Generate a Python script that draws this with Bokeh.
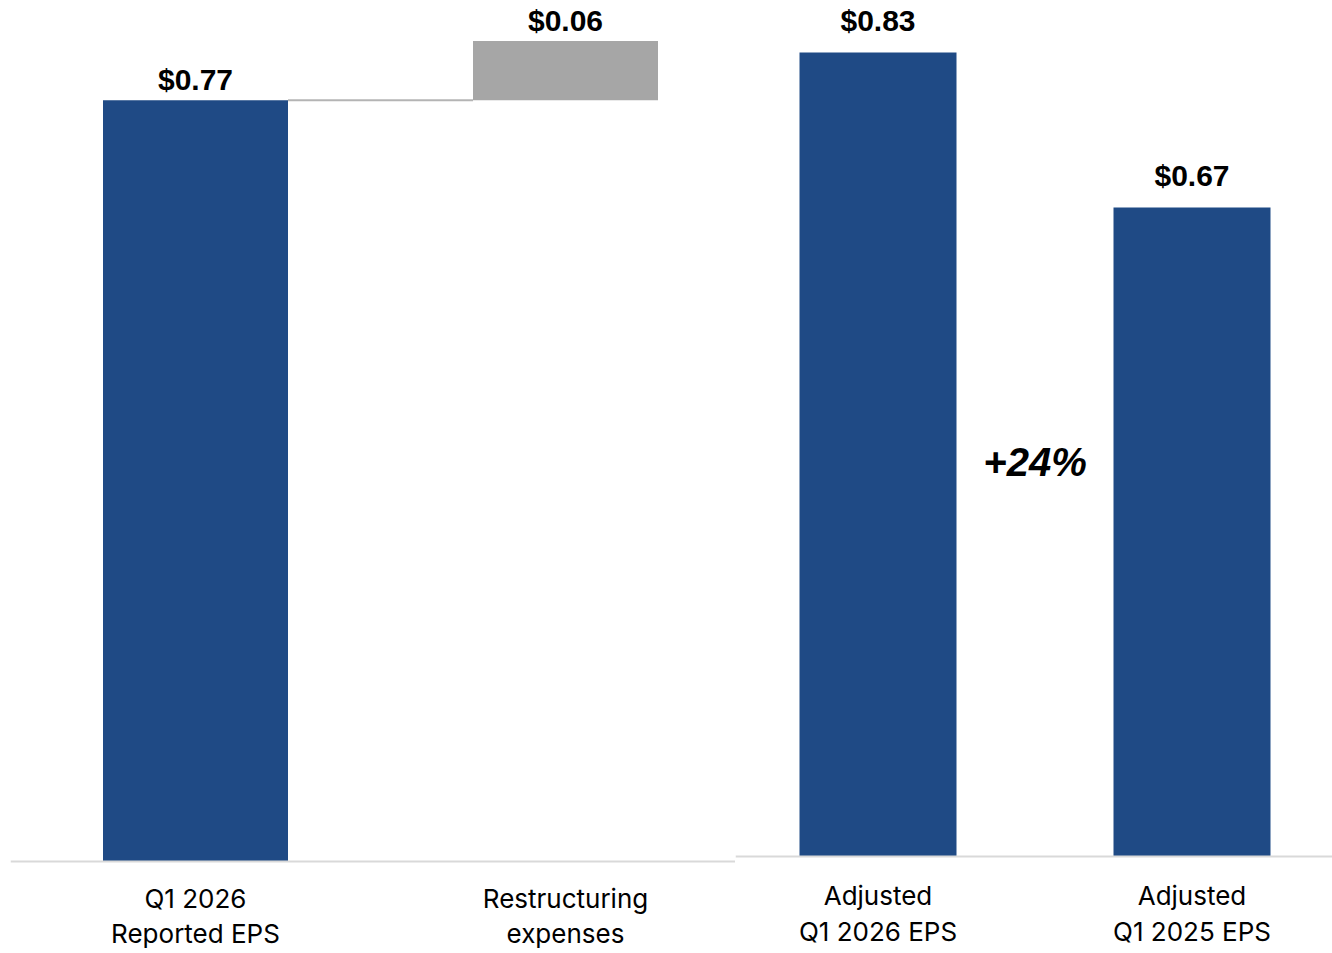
from bokeh.plotting import figure
from bokeh.models import Range1d, ColumnDataSource, LabelSet, Label, Span
from bokeh.core.properties import value
from bokeh.layouts import row
from bokeh.embed import file_html
from bokeh.resources import INLINE

# ---- data ----
bridge_line1 = ["Q1 2026", "Restructuring"]
bridge_line2 = ["Reported EPS", "expenses"]
reported_eps = 0.77
restructuring = 0.06

compare_line1 = ["Adjusted", "Adjusted"]
compare_line2 = ["Q1 2026 EPS", "Q1 2025 EPS"]
compare_values = [0.83, 0.67]

BLUE = "#1F4A85"
GREY = "#A6A6A6"
AXIS = "#D9D9D9"
LABEL_FONT = value("Liberation Sans")
CAT_FONT = value("Inter")


def val_labels(src, off):
    return LabelSet(x="x", y="top", text="lbl", source=src, text_align="center",
                    text_baseline="bottom", y_offset=off, text_font=LABEL_FONT,
                    text_font_style="bold", text_font_size="30px", text_color="black")


def cat_labels(src, col, off):
    return LabelSet(x="x", y="zero", text=col, source=src, text_align="center",
                    text_baseline="middle", y_offset=off, text_font=CAT_FONT,
                    text_font_size="26px", text_color="black")


# ---- left: bridge (waterfall) ----
left = figure(width=735, height=953, output_backend="svg", toolbar_location=None,
              x_axis_type=None, y_axis_type=None,
              x_range=Range1d(0, 725 / 370), y_range=Range1d(-92 / 988.5, 861 / 988.5),
              min_border_left=10, min_border_right=0, min_border_top=0, min_border_bottom=0)
left.outline_line_color = None
left.grid.visible = False

bw = 0.5
xs = [0.5, 1.5]
lsrc = ColumnDataSource(dict(x=xs, bottom=[0, reported_eps],
                             top=[reported_eps, reported_eps + restructuring],
                             color=[BLUE, GREY],
                             lbl=[f"${reported_eps:.2f}", f"${restructuring:.2f}"],
                             l1=bridge_line1, l2=bridge_line2, zero=[0, 0]))
left.add_layout(Span(location=0, dimension="width", line_color=AXIS, line_width=2))
left.vbar(x="x", bottom="bottom", top="top", width=bw, fill_color="color", line_color=None, source=lsrc)
left.segment(x0=[xs[0] + bw / 2], y0=[reported_eps], x1=[xs[1] - bw / 2], y1=[reported_eps],
             line_color="#B4B4B4", line_width=2)
left.add_layout(val_labels(lsrc, 4))
left.add_layout(cat_labels(lsrc, "l1", -37))
left.add_layout(cat_labels(lsrc, "l2", -72))

# ---- right: comparison ----
x0 = 0.5 - (877.5 - 735) / 314
right = figure(width=597, height=953, output_backend="svg", toolbar_location=None,
               x_axis_type=None, y_axis_type=None,
               x_range=Range1d(x0, x0 + 597 / 314), y_range=Range1d(-97 / 968.7, 856 / 968.7),
               min_border_left=0, min_border_right=0, min_border_top=0, min_border_bottom=0)
right.outline_line_color = None
right.grid.visible = False

rsrc = ColumnDataSource(dict(x=xs, top=compare_values,
                             lbl=[f"${v:.2f}" for v in compare_values],
                             l1=compare_line1, l2=compare_line2, zero=[0, 0]))
right.add_layout(Span(location=0, dimension="width", line_color=AXIS, line_width=2))
right.vbar(x="x", bottom=0, top="top", width=bw, fill_color=BLUE, line_color=None, source=rsrc)
right.add_layout(val_labels(rsrc, 15))
right.add_layout(cat_labels(rsrc, "l1", -39))
right.add_layout(cat_labels(rsrc, "l2", -75))
growth = compare_values[0] / compare_values[1] - 1
right.add_layout(Label(x=sum(xs) / 2, y=0.407, text=f"+{growth * 100:.0f}%", text_align="center",
                       text_baseline="middle", text_font="Liberation Sans", text_font_style="bold italic",
                       text_font_size="40px", text_color="black"))

p = row(left, right)
open("out.html", "w").write(file_html(p, INLINE))
